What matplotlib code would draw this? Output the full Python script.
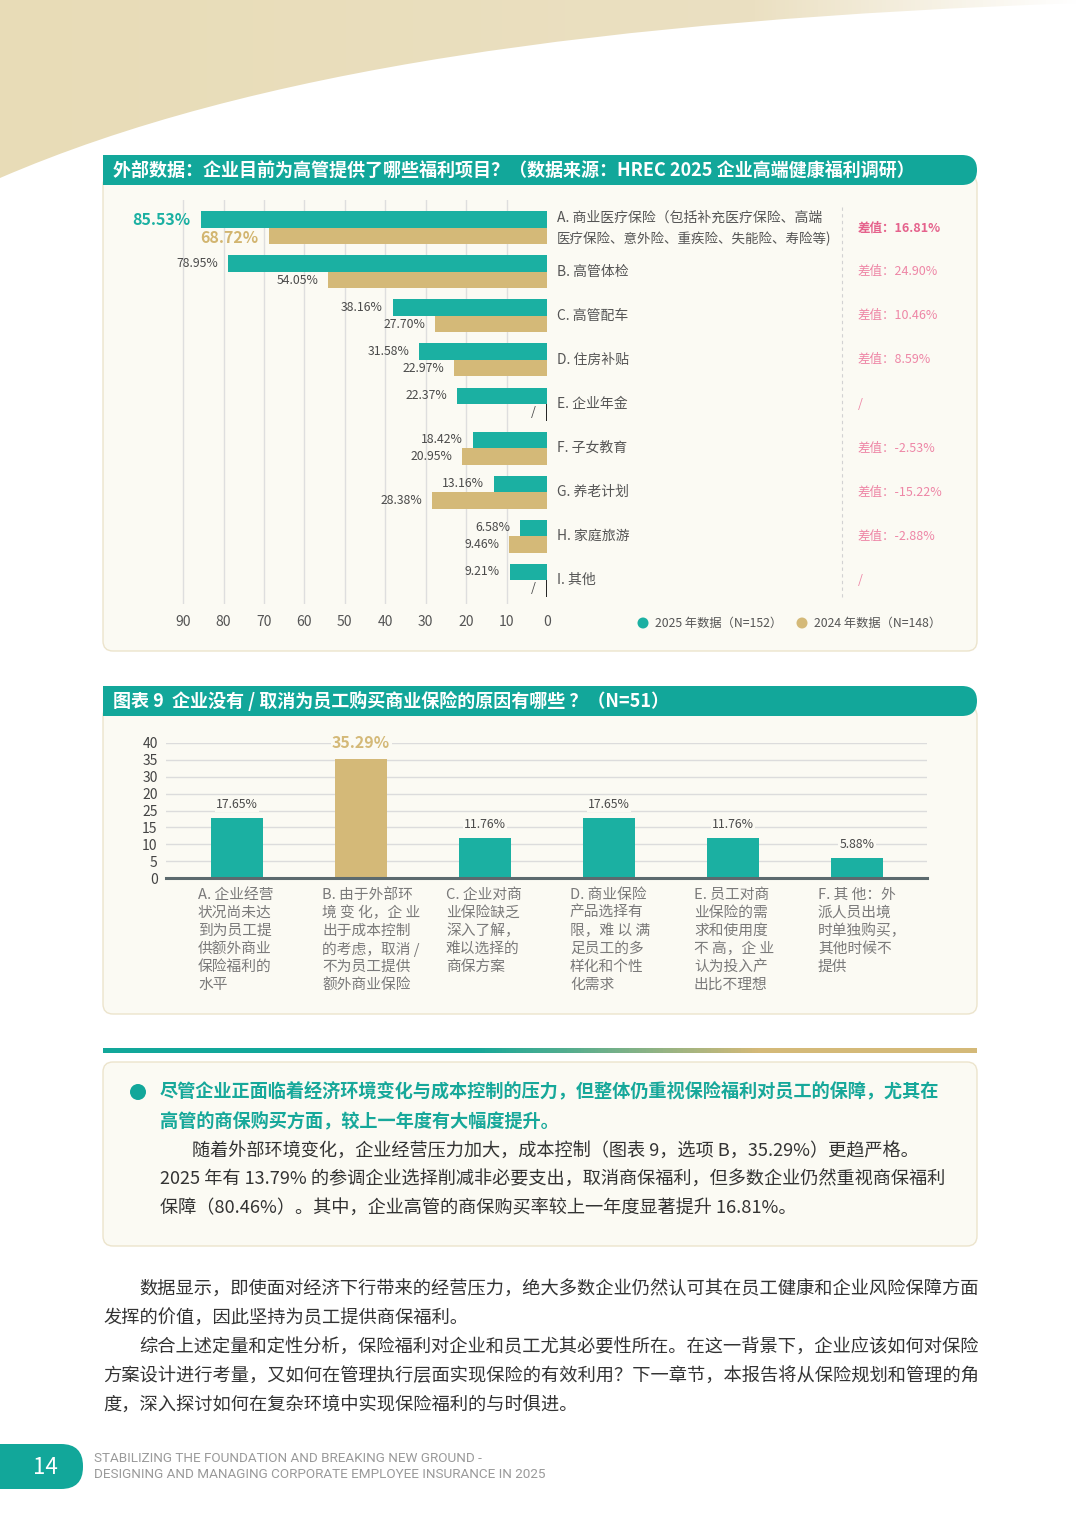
import numpy as np
import matplotlib
matplotlib.use('Agg')
import matplotlib.pyplot as plt
import matplotlib.transforms as mtransforms
from matplotlib.patches import FancyBboxPatch, Rectangle, Circle, PathPatch
from matplotlib.path import Path
from matplotlib.colors import LinearSegmentedColormap

plt.rcParams['font.family'] = ['Noto Sans CJK SC', 'DejaVu Sans']

# ---- data: chart 1 (benefits for executives) ----
benefit_labels = [
    ["A. 商业医疗保险（包括补充医疗保险、高端", "医疗保险、意外险、重疾险、失能险、寿险等)"],
    ["B. 高管体检"], ["C. 高管配车"], ["D. 住房补贴"], ["E. 企业年金"],
    ["F. 子女教育"], ["G. 养老计划"], ["H. 家庭旅游"], ["I. 其他"],
]
share_2025 = [85.53, 78.95, 38.16, 31.58, 22.37, 18.42, 13.16, 6.58, 9.21]
share_2024 = [68.72, 54.05, 27.70, 22.97, None, 20.95, 28.38, 9.46, None]
diff_labels = ["差值：16.81%", "差值：24.90%", "差值：10.46%", "差值：8.59%", "/",
               "差值：-2.53%", "差值：-15.22%", "差值：-2.88%", "/"]
x_ticks1 = [0, 10, 20, 30, 40, 50, 60, 70, 80, 90]
legend_labels = ["2025 年数据（N=152）", "2024 年数据（N=148）"]

# ---- data: chart 2 (reasons for no insurance) ----
reason_lines = [
    ["A. 企业经营", "状况尚未达", "到为员工提", "供额外商业", "保险福利的", "水平"],
    ["B. 由于外部环", "境 变 化，企 业", "出于成本控制", "的考虑，取消 /", "不为员工提供", "额外商业保险"],
    ["C. 企业对商", "业保险缺乏", "深入了解，", "难以选择的", "商保方案"],
    ["D. 商业保险", "产品选择有", "限，难 以 满", "足员工的多", "样化和个性", "化需求"],
    ["E. 员工对商", "业保险的需", "求和使用度", "不 高，企 业", "认为投入产", "出比不理想"],
    ["F. 其 他：外", "派人员出境", "时单独购买，", "其他时候不", "提供"],
]
reason_share = [17.65, 35.29, 11.76, 17.65, 11.76, 5.88]
y_ticks2 = [0, 5, 10, 15, 20, 25, 30, 35, 40]
y_ticklabels2 = ['0', '5', '10', '15', '25', '20', '30', '35', '40']

title1 = "外部数据：企业目前为高管提供了哪些福利项目？（数据来源：HREC 2025 企业高端健康福利调研）"
title2 = "图表 9  企业没有 / 取消为员工购买商业保险的原因有哪些 ？（N=51）"
key_lines = ["尽管企业正面临着经济环境变化与成本控制的压力，但整体仍重视保险福利对员工的保障，尤其在",
             "高管的商保购买方面，较上一年度有大幅度提升。"]
box_lines = ["随着外部环境变化，企业经营压力加大，成本控制（图表 9，选项 B，35.29%）更趋严格。",
             "2025 年有 13.79% 的参调企业选择削减非必要支出，取消商保福利，但多数企业仍然重视商保福利",
             "保障（80.46%）。其中，企业高管的商保购买率较上一年度显著提升 16.81%。"]
body_lines = ["数据显示，即使面对经济下行带来的经营压力，绝大多数企业仍然认可其在员工健康和企业风险保障方面",
              "发挥的价值，因此坚持为员工提供商保福利。",
              "综合上述定量和定性分析，保险福利对企业和员工尤其必要性所在。在这一背景下，企业应该如何对保险",
              "方案设计进行考量，又如何在管理执行层面实现保险的有效利用？下一章节，本报告将从保险规划和管理的角",
              "度，深入探讨如何在复杂环境中实现保险福利的与时俱进。"]
body_indent = [True, False, True, False, False]
footer_lines = ["STABILIZING THE FOUNDATION AND BREAKING NEW GROUND -",
                "DESIGNING AND MANAGING CORPORATE EMPLOYEE INSURANCE IN 2025"]

W, H = 1080, 1528
TEAL = '#1BB0A2'
HEAD = '#12A79A'
GOLD = '#D4B978'
PINK = '#EE86A6'
CREAM = '#FBFAF3'
EDGE = '#ECE4CC'
LBL = '#4A4A4A'


def fig_rect(x0, y0, x1, y1):
    return [x0 / W, 1 - y1 / H, (x1 - x0) / W, (y1 - y0) / H]


fig = plt.figure(figsize=(W / 100, H / 100), dpi=100)
bg = fig.add_axes([0, 0, 1, 1])
bg.set_xlim(0, W)
bg.set_ylim(H, 0)
bg.axis('off')

# top beige swoosh
verts = [(0, 178), (250, 70), (600, 20), (1080, 3), (1080, 0), (0, 0), (0, 178)]
codes = [Path.MOVETO, Path.CURVE4, Path.CURVE4, Path.CURVE4, Path.LINETO, Path.LINETO, Path.CLOSEPOLY]
swoosh = PathPatch(Path(verts, codes), fc='none', ec='none')
bg.add_patch(swoosh)
beige = LinearSegmentedColormap.from_list('b', [(0, '#E8DCB7'), (0.7, '#EBE0C2'), (1, '#FFFFFF')])
img = bg.imshow(np.linspace(0, 1, 256)[None, :], cmap=beige, extent=(0, 1080, 200, 0),
                aspect='auto', zorder=0.5)
img.set_clip_path(swoosh)
bg.set_xlim(0, W)
bg.set_ylim(H, 0)


def panel(y_head, y_bottom, title):
    bg.add_patch(FancyBboxPatch((103, y_head + 20), 874, y_bottom - y_head - 20,
                                boxstyle="round,pad=0,rounding_size=10",
                                fc=CREAM, ec=EDGE, lw=1, zorder=1))
    bg.add_patch(FancyBboxPatch((103, y_head), 874, 30, boxstyle="round,pad=0,rounding_size=15",
                                fc=HEAD, ec='none', zorder=2))
    bg.add_patch(Rectangle((103, y_head), 30, 30, fc=HEAD, ec='none', zorder=2))
    bg.text(113, y_head + 15, title, color='white', fontsize=13, fontweight='bold',
            va='center', ha='left', zorder=3)


panel(155, 651, title1)
panel(686, 1014, title2)

# ---- chart 1 ----
ax1 = fig.add_axes(fig_rect(175, 200, 547, 604))
ax1.patch.set_alpha(0)
rows = np.arange(len(share_2025))
bh = 0.375
ax1.barh(rows - bh / 2, share_2025, height=bh, color=TEAL, zorder=2)
idx24 = [i for i, v in enumerate(share_2024) if v is not None]
ax1.barh(rows[idx24] + bh / 2, [share_2024[i] for i in idx24], height=bh, color=GOLD, zorder=2)
for i, v in enumerate(share_2025):
    if i == 0:
        ax1.annotate(f"{v:.2f}%", (v, i - bh / 2), xytext=(-8, 0), textcoords='offset points',
                     ha='right', va='center', color=TEAL, fontsize=11.5, fontweight='bold', zorder=4)
    else:
        ax1.annotate(f"{v:.2f}%", (v, i - bh / 2), xytext=(-7, 0), textcoords='offset points',
                     ha='right', va='center', color=LBL, fontsize=8.8)
for i, v in enumerate(share_2024):
    if v is None:
        ax1.vlines(0, i, i + bh, color='#222222', lw=1.4, zorder=3)
        ax1.annotate("/", (0, i + bh / 2), xytext=(-10, 0), textcoords='offset points',
                     ha='center', va='center', color=LBL, fontsize=9)
    elif i == 0:
        ax1.annotate(f"{v:.2f}%", (v, i + bh / 2), xytext=(-8, -1.5), textcoords='offset points',
                     ha='right', va='center', color='#D2B570', fontsize=11.5, fontweight='bold', zorder=4)
    else:
        ax1.annotate(f"{v:.2f}%", (v, i + bh / 2), xytext=(-7, 0), textcoords='offset points',
                     ha='right', va='center', color=LBL, fontsize=8.8)
ax1.set_xlim(92, 0)
ax1.set_ylim(8.545, -0.636)
ax1.set_xticks(x_ticks1)
ax1.set_yticks([])
ax1.tick_params(axis='x', length=0, labelsize=10, labelcolor='#555555', pad=8)
ax1.grid(axis='x', color='#DEDEDE', lw=1)
ax1.xaxis.get_gridlines()[0].set_visible(False)
ax1.set_axisbelow(True)
for s in ax1.spines.values():
    s.set_visible(False)

tr1 = mtransforms.blended_transform_factory(bg.transData, ax1.transData)
for i, lines in enumerate(benefit_labels):
    if len(lines) == 1:
        bg.text(557, i, lines[0], transform=tr1, ha='left', va='center', fontsize=10, color='#555555')
    else:
        bg.text(557, i - 0.24, lines[0], transform=tr1, ha='left', va='center', fontsize=10, color='#555555')
        bg.text(557, i + 0.24, lines[1], transform=tr1, ha='left', va='center', fontsize=9.7, color='#555555')
    if i == 0:
        bg.text(858, i, diff_labels[i], transform=tr1, ha='left', va='center', fontsize=9,
                color='#E5628C', fontweight='bold')
    else:
        bg.text(858, i, diff_labels[i], transform=tr1, ha='left', va='center', fontsize=9, color=PINK)
bg.plot([842, 842], [207, 600], ls=(0, (3, 3)), color='#D2D2D2', lw=0.8, zorder=2)

for cx, col, lab in [(643, TEAL, legend_labels[0]), (802, GOLD, legend_labels[1])]:
    bg.add_patch(Circle((cx, 623), 5.5, fc=col, ec='none', zorder=3))
    bg.text(cx + 12, 623, lab, ha='left', va='center', fontsize=8.8, color='#555555', zorder=3)

# ---- chart 2 ----
ax2 = fig.add_axes(fig_rect(166, 743, 927, 878))
ax2.patch.set_alpha(0)
xs = np.arange(len(reason_share))
top = int(np.argmax(reason_share))
colors2 = [GOLD if i == top else TEAL for i in xs]
ax2.bar(xs, reason_share, width=0.42, color=colors2, zorder=2)
for i, v in enumerate(reason_share):
    if i == top:
        ax2.annotate(f"{v:.2f}%", (i, v), xytext=(0, 6), textcoords='offset points', ha='center',
                     va='bottom', fontsize=11.5, fontweight='bold', color=GOLD,
                     bbox=dict(fc=CREAM, ec='none', pad=1))
    else:
        ax2.annotate(f"{v:.2f}%", (i, v), xytext=(0, 5.5), textcoords='offset points', ha='center',
                     va='bottom', fontsize=8.8, color=LBL,
                     bbox=dict(fc=CREAM, ec='none', pad=1))
ax2.set_xlim(-0.573, 5.565)
ax2.set_ylim(0, 40)
ax2.set_yticks(y_ticks2)
ax2.set_yticklabels(y_ticklabels2)
ax2.set_xticks([])
ax2.tick_params(axis='y', length=0, labelsize=10, labelcolor='#444444', pad=6)
ax2.grid(axis='y', color='#DCDCDC', lw=1)
ax2.set_axisbelow(True)
for k in ['top', 'left', 'right']:
    ax2.spines[k].set_visible(False)
ax2.spines['bottom'].set_color('#5C6A6E')
ax2.spines['bottom'].set_linewidth(2.2)
ax2.spines['bottom'].set_zorder(3)

tr2 = mtransforms.blended_transform_factory(ax2.transData, bg.transData)
for i, lines in enumerate(reason_lines):
    for k, ln in enumerate(lines):
        bg.text(i - 0.315, 895 + 18 * k, ln, transform=tr2, ha='left', va='center',
                fontsize=10.6, color='#7A7A7A')

# ---- gradient divider ----
grad = LinearSegmentedColormap.from_list('g', [(0, HEAD), (0.42, HEAD), (0.75, GOLD), (1, GOLD)])
bg.imshow(np.linspace(0, 1, 256)[None, :], cmap=grad, extent=(103, 977, 1053, 1048),
          aspect='auto', zorder=1)
bg.set_xlim(0, W)
bg.set_ylim(H, 0)

# ---- key finding box ----
bg.add_patch(FancyBboxPatch((103, 1062), 874, 184, boxstyle="round,pad=0,rounding_size=10",
                            fc=CREAM, ec=EDGE, lw=1, zorder=1))
bg.add_patch(Circle((138, 1092), 8, fc=HEAD, ec='none', zorder=2))
for k, ln in enumerate(key_lines):
    bg.text(160, 1092 + 29 * k, ln, ha='left', va='center', fontsize=13.1, fontweight='bold',
            color='#17A89A', zorder=2)
for k, ln in enumerate(box_lines):
    bg.text(192 if k == 0 else 160, 1151 + 29 * k, ln, ha='left', va='center', fontsize=13.1,
            color='#333333', zorder=2)

# ---- body text ----
for k, ln in enumerate(body_lines):
    bg.text(139 if body_indent[k] else 103, 1290 + 29 * k, ln, ha='left', va='center',
            fontsize=13.15, color='#333333')

# ---- footer ----
bg.add_patch(FancyBboxPatch((-30, 1444), 113, 45, boxstyle="round,pad=0,rounding_size=22",
                            fc=HEAD, ec='none', zorder=2))
bg.text(45, 1467, "14", ha='center', va='center', fontsize=16, color='white', zorder=3)
for k, ln in enumerate(footer_lines):
    bg.text(94, 1459 + 16 * k, ln, ha='left', va='center', fontsize=9.7, color='#9A9A9A',
            family=['Roboto', 'DejaVu Sans'])

fig.savefig('out.png', dpi=100, facecolor='white')
